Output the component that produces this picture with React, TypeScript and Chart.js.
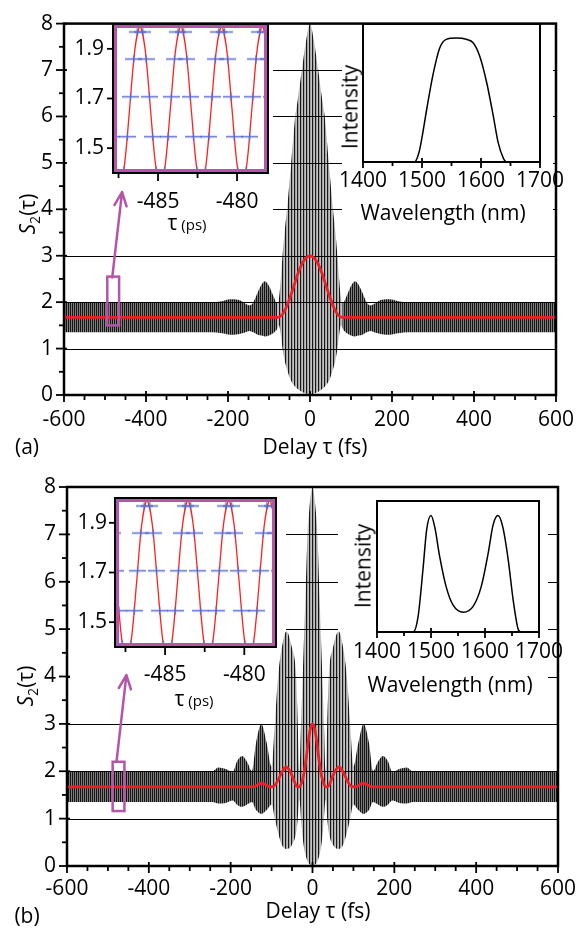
import React, { useEffect, useRef } from "react";
import { Chart, registerables } from "chart.js";

Chart.register(...registerables);

const W = 586;
const H = 934;
const FONT = "'Open Sans', 'DejaVu Sans', sans-serif";
const RED = "#ee1f26";
const MAGENTA = "#b455a8";
const BLUE = "#5a6bd0";
const XH = 44; // height reserved for x tick labels
const YW = 50; // width reserved for y tick labels

// ---------- Panel (a): autocorrelation S2(tau), flat-top spectrum ----------
const delayA = [-600, -240, -215, -195, -175, -160, -148, -138, -128, -118, -110, -100, -90, -80, -76, -72, -67, -62, -56, -46, -36, -30, -20, -10, 0, 10, 20, 30, 36, 46, 56, 62, 67, 72, 76, 80, 90, 100, 110, 118, 128, 138, 148, 160, 175, 195, 215, 240, 600];
const upperA = [2.0, 2.0, 2.02, 2.06, 2.05, 1.98, 1.93, 2.0, 2.2, 2.38, 2.45, 2.35, 2.15, 1.98, 2.05, 2.4, 3.0, 3.5, 4.0, 5.0, 6.0, 6.35, 7.0, 7.6, 8.0, 7.6, 7.0, 6.35, 6.0, 5.0, 4.0, 3.5, 3.0, 2.4, 2.05, 1.98, 2.15, 2.35, 2.45, 2.38, 2.2, 2.0, 1.93, 1.98, 2.05, 2.06, 2.02, 2.0, 2.0];
const lowerA = [1.35, 1.35, 1.33, 1.3, 1.31, 1.34, 1.38, 1.35, 1.3, 1.28, 1.26, 1.28, 1.33, 1.42, 1.5, 1.35, 1.0, 0.75, 0.55, 0.3, 0.18, 0.13, 0.07, 0.03, 0.0, 0.03, 0.07, 0.13, 0.18, 0.3, 0.55, 0.75, 1.0, 1.35, 1.5, 1.42, 1.33, 1.28, 1.26, 1.28, 1.3, 1.35, 1.38, 1.34, 1.31, 1.3, 1.33, 1.35, 1.35];
const redDelayA = [-600, -80, -70, -60, -50, -40, -30, -20, -10, 0, 10, 20, 30, 40, 50, 60, 70, 80, 600];
const redA = [1.67, 1.67, 1.71, 1.85, 2.07, 2.33, 2.6, 2.82, 2.95, 3.0, 2.95, 2.82, 2.6, 2.33, 2.07, 1.85, 1.71, 1.67, 1.67];

// ---------- Panel (b): autocorrelation S2(tau), double-peak spectrum ----------
const delayB = [-600, -245, -230, -212, -195, -185, -172, -160, -148, -138, -125, -112, -100, -92, -84, -75, -64, -50, -40, -36, -32, -28, -24, -20, -16, -12, -8, 0, 8, 12, 16, 20, 24, 28, 32, 36, 40, 50, 64, 75, 84, 92, 100, 112, 125, 138, 148, 160, 172, 185, 195, 212, 230, 245, 600];
const upperB = [2.0, 2.0, 2.08, 2.05, 1.98, 2.2, 2.32, 2.2, 2.0, 2.6, 3.0, 2.6, 2.1, 3.0, 4.0, 4.6, 4.95, 4.6, 4.0, 3.0, 2.0, 3.0, 4.0, 5.0, 6.0, 7.0, 7.5, 8.0, 7.5, 7.0, 6.0, 5.0, 4.0, 3.0, 2.0, 3.0, 4.0, 4.6, 4.95, 4.6, 4.0, 3.0, 2.1, 2.6, 3.0, 2.6, 2.0, 2.2, 2.32, 2.2, 1.98, 2.05, 2.08, 2.0, 2.0];
const lowerB = [1.35, 1.35, 1.32, 1.33, 1.38, 1.3, 1.25, 1.3, 1.35, 1.18, 1.1, 1.18, 1.3, 1.0, 0.7, 0.45, 0.36, 0.45, 0.7, 1.0, 1.4, 1.0, 0.6, 0.35, 0.2, 0.1, 0.04, 0.0, 0.04, 0.1, 0.2, 0.35, 0.6, 1.0, 1.4, 1.0, 0.7, 0.45, 0.36, 0.45, 0.7, 1.0, 1.3, 1.18, 1.1, 1.18, 1.35, 1.3, 1.25, 1.3, 1.38, 1.33, 1.32, 1.35, 1.35];
const redDelayB = [-600, -160, -145, -135, -125, -115, -105, -95, -85, -75, -65, -55, -45, -40, -35, -30, -25, -20, -15, -10, -5, 0, 5, 10, 15, 20, 25, 30, 35, 40, 45, 55, 65, 75, 85, 95, 105, 115, 125, 135, 145, 160, 600];
const redB = [1.67, 1.67, 1.67, 1.71, 1.75, 1.72, 1.67, 1.68, 1.8, 1.98, 2.09, 2.0, 1.8, 1.7, 1.67, 1.69, 1.8, 2.0, 2.3, 2.65, 2.9, 3.0, 2.9, 2.65, 2.3, 2.0, 1.8, 1.69, 1.67, 1.7, 1.8, 2.0, 2.09, 1.98, 1.8, 1.68, 1.67, 1.72, 1.75, 1.71, 1.67, 1.67, 1.67];

// ---------- Zoomed inset: S2 near tau = -483 ----------
const insetTau = [-488.72, -488.4, -488.075, -487.75, -487.43, -487.11, -486.785, -486.46, -486.14, -485.82, -485.495, -485.17, -484.85, -484.53, -484.205, -483.88, -483.56, -483.24, -482.915, -482.59, -482.27, -481.95, -481.625, -481.3, -480.98, -480.66, -480.335, -480.01, -479.69, -479.37, -479.045, -478.72, -478.4, -478.08, -477.755];
const insetS = [1.99, 1.9, 1.67, 1.44, 1.34, 1.44, 1.67, 1.9, 1.99, 1.9, 1.67, 1.44, 1.34, 1.44, 1.67, 1.9, 1.99, 1.9, 1.67, 1.44, 1.34, 1.44, 1.67, 1.9, 1.99, 1.9, 1.67, 1.44, 1.34, 1.44, 1.67, 1.9, 1.99, 1.9, 1.67];
const crossLevels = [1.968, 1.859, 1.707, 1.546, 1.41];
const crossTau = [
  [-488.9, -488.54, -486.32, -485.96, -483.74, -483.38, -481.16, -480.8, -478.58, -478.22],
  [-489.12, -488.33, -486.54, -485.75, -483.96, -483.17, -481.38, -480.59, -478.8, -478.01],
  [-489.32, -488.12, -486.74, -485.54, -484.16, -482.96, -481.58, -480.38, -479.0, -477.8],
  [-489.52, -487.92, -486.94, -485.34, -484.36, -482.76, -481.78, -480.18, -479.2, -477.6],
  [-489.74, -487.7, -487.16, -485.12, -484.58, -482.54, -482.0, -479.96, -479.42, -477.38],
];

// ---------- Spectra ----------
const wavelengthA = [1400, 1487, 1495, 1500, 1508, 1519, 1530, 1541, 1558, 1575, 1587, 1598, 1610, 1621, 1629, 1638, 1643, 1700];
const intensityA = [0, 0, 0.08, 0.2, 0.43, 0.72, 0.93, 1.0, 1.01, 1.0, 0.97, 0.86, 0.64, 0.37, 0.16, 0.03, 0, 0];
const wavelengthB = [1400, 1467, 1476, 1485, 1492, 1500, 1507, 1516, 1528, 1541, 1560, 1578, 1593, 1606, 1615, 1624, 1633, 1643, 1652, 1661, 1666, 1700];
const intensityB = [0, 0, 0.13, 0.53, 0.88, 1.0, 0.9, 0.65, 0.39, 0.23, 0.17, 0.22, 0.39, 0.68, 0.92, 1.0, 0.9, 0.62, 0.28, 0.03, 0, 0];

// ---------- Tick values ----------
const mainXTicks = [-600, -400, -200, 0, 200, 400, 600];
const mainXMinor = [-550, -500, -450, -350, -300, -250, -150, -100, -50, 50, 100, 150, 250, 300, 350, 450, 500, 550];
const mainYTicks = [0, 1, 2, 3, 4, 5, 6, 7, 8];
const mainYMinor = [0.5, 1.5, 2.5, 3.5, 4.5, 5.5, 6.5, 7.5];
const gridValues = [1, 2, 3, 4, 5, 6, 7];
const insetXTicks = [-485, -480];
const insetXMinor = [-487.5, -482.5];
const insetYTicks = [1.5, 1.7, 1.9];
const specXTicks = [1400, 1500, 1600, 1700];
const specXMinor = [1450, 1550, 1650];

function pts(xs: number[], ys: number[]) {
  return xs.map((x, i) => ({ x, y: ys[i] }));
}

function stripes(ctx: CanvasRenderingContext2D, cols: string[]) {
  const c = document.createElement("canvas");
  c.width = cols.length;
  c.height = 1;
  const g = c.getContext("2d")!;
  cols.forEach((col, i) => {
    g.fillStyle = col;
    g.fillRect(i, 0, 1, 1);
  });
  return ctx.createPattern(c, "repeat");
}

function crossImg() {
  const c = document.createElement("canvas");
  c.width = 17;
  c.height = 9;
  const g = c.getContext("2d")!;
  g.strokeStyle = BLUE;
  g.lineWidth = 1.3;
  g.beginPath();
  g.moveTo(0, 4.5);
  g.lineTo(17, 4.5);
  g.moveTo(8.5, 0.5);
  g.lineTo(8.5, 8.5);
  g.stroke();
  return c;
}

function makeDecor(cfg: any) {
  return {
    id: "decor",
    beforeDatasetsDraw(chart: any) {
      const { ctx, chartArea: a, scales } = chart;
      ctx.save();
      if (cfg.grid) {
        ctx.strokeStyle = "#000";
        ctx.lineWidth = 1.2;
        for (const v of cfg.grid) {
          const y = Math.round(scales.y.getPixelForValue(v)) + 0.5;
          ctx.beginPath();
          ctx.moveTo(a.left, y);
          ctx.lineTo(a.right, y);
          ctx.stroke();
        }
      }
      if (cfg.covers) {
        ctx.fillStyle = "#fff";
        for (const r of cfg.covers) ctx.fillRect(r[0], r[1], r[2] - r[0], r[3] - r[1]);
      }
      ctx.restore();
    },
    afterDraw(chart: any) {
      const { ctx, chartArea: a, scales } = chart;
      ctx.save();
      ctx.strokeStyle = "#000";
      for (const t of cfg.ticks || []) {
        ctx.lineWidth = t.width || 1.6;
        for (const v of t.values) {
          ctx.beginPath();
          if (t.axis === "x") {
            const x = scales.x.getPixelForValue(v);
            ctx.moveTo(x, a.bottom - t.inn);
            ctx.lineTo(x, a.bottom + t.out);
          } else {
            const y = scales.y.getPixelForValue(v);
            ctx.moveTo(a.left - t.out, y);
            ctx.lineTo(a.left + t.inn, y);
          }
          ctx.stroke();
        }
      }
      ctx.lineWidth = cfg.frame;
      ctx.strokeRect(a.left, a.top, a.right - a.left, a.bottom - a.top);
      if (cfg.inner) {
        const d = cfg.inner.inset;
        ctx.strokeStyle = MAGENTA;
        ctx.lineWidth = cfg.inner.width;
        ctx.strokeRect(a.left + d, a.top + d, a.right - a.left - 2 * d, a.bottom - a.top - 2 * d);
      }
      if (cfg.box) {
        const b = cfg.box;
        const x0 = scales.x.getPixelForValue(b.x0);
        const x1 = scales.x.getPixelForValue(b.x1);
        const y0 = scales.y.getPixelForValue(b.y0);
        const y1 = scales.y.getPixelForValue(b.y1);
        ctx.strokeStyle = MAGENTA;
        ctx.lineWidth = 2.5;
        ctx.strokeRect(x0, y1, x1 - x0, y0 - y1);
      }
      if (cfg.arrow) {
        const r = cfg.arrow;
        const x0 = scales.x.getPixelForValue(r.x0);
        const y0 = scales.y.getPixelForValue(r.y0);
        const x1 = scales.x.getPixelForValue(r.x1);
        const y1 = scales.y.getPixelForValue(r.y1);
        const ang = Math.atan2(y1 - y0, x1 - x0);
        const L = 15;
        const s = 0.42;
        ctx.strokeStyle = MAGENTA;
        ctx.lineWidth = 2.5;
        ctx.lineCap = "round";
        ctx.lineJoin = "round";
        ctx.beginPath();
        ctx.moveTo(x0, y0);
        ctx.lineTo(x1, y1);
        ctx.moveTo(x1 - L * Math.cos(ang - s), y1 - L * Math.sin(ang - s));
        ctx.lineTo(x1, y1);
        ctx.lineTo(x1 - L * Math.cos(ang + s), y1 - L * Math.sin(ang + s));
        ctx.stroke();
      }
      ctx.restore();
    },
  };
}

function scaleX(min: number, max: number, ticks: number[], padding: number, fmt: (v: number) => string) {
  return {
    type: "linear",
    min,
    max,
    afterFit: (s: any) => {
      s.height = XH;
    },
    afterBuildTicks: (s: any) => {
      s.ticks = ticks.map((v) => ({ value: v }));
    },
    grid: { display: false, drawTicks: false },
    border: { display: false },
    ticks: {
      font: { family: FONT, size: 21 },
      color: "#000",
      padding,
      autoSkip: false,
      maxRotation: 0,
      minRotation: 0,
      callback: (v: any) => fmt(Number(v)),
    },
  };
}

function scaleY(min: number, max: number, ticks: number[], padding: number, fmt: (v: number) => string, display = true) {
  return {
    type: "linear",
    min,
    max,
    display,
    afterFit: (s: any) => {
      s.width = display ? YW : 0;
    },
    afterBuildTicks: (s: any) => {
      s.ticks = ticks.map((v) => ({ value: v }));
    },
    grid: { display: false, drawTicks: false },
    border: { display: false },
    ticks: {
      font: { family: FONT, size: 21 },
      color: "#000",
      padding,
      autoSkip: false,
      callback: (v: any) => fmt(Number(v)),
    },
  };
}

function baseOptions(area: number[], scales: any, yShown = true) {
  return {
    responsive: false,
    animation: false,
    devicePixelRatio: 1,
    events: [],
    layout: {
      autoPadding: false,
      padding: {
        left: area[0] - (yShown ? YW : 0),
        top: area[1],
        right: W - area[2],
        bottom: H - area[3] - XH,
      },
    },
    plugins: { legend: { display: false }, tooltip: { enabled: false }, title: { display: false } },
    scales,
  };
}

function mainChart(canvas: HTMLCanvasElement, p: any) {
  const ctx = canvas.getContext("2d")!;
  const flat = stripes(ctx, ["rgba(0,0,0,0.92)", "rgba(0,0,0,0.5)"]);
  const center = stripes(ctx, ["rgba(0,0,0,0.9)", "rgba(0,0,0,0.36)", "rgba(0,0,0,0.24)"]);
  const lim = p.lim;
  return new Chart(canvas, {
    type: "line",
    data: {
      datasets: [
        {
          data: pts(p.delay, p.upper),
          borderColor: "rgba(0,0,0,0)",
          borderWidth: 0,
          pointRadius: 0,
          fill: false,
          order: 1,
          cubicInterpolationMode: "monotone",
        },
        {
          data: pts(p.delay, p.lower),
          borderColor: "rgba(0,0,0,0)",
          borderWidth: 0,
          pointRadius: 0,
          fill: "-1",
          backgroundColor: flat,
          segment: {
            backgroundColor: (c: any) =>
              Math.abs(c.p0.parsed.x) <= lim && Math.abs(c.p1.parsed.x) <= lim ? center : flat,
          },
          order: 2,
          cubicInterpolationMode: "monotone",
        },
        {
          data: pts(p.redDelay, p.red),
          borderColor: RED,
          borderWidth: 2.8,
          pointRadius: 0,
          fill: false,
          order: 0,
          cubicInterpolationMode: "monotone",
        },
      ],
    },
    options: baseOptions(p.area, {
      x: scaleX(-600, 600, mainXTicks, p.xPad, (v) => String(v)),
      y: scaleY(0, 8, mainYTicks, 11, (v) => String(v)),
    }),
    plugins: [
      makeDecor({
        grid: gridValues,
        covers: p.covers,
        frame: 2.5,
        box: p.box,
        arrow: p.arrow,
        ticks: [
          { axis: "x", values: mainXTicks, out: 7, inn: 4, width: 1.8 },
          { axis: "x", values: mainXMinor, out: 5, inn: 0, width: 1.8 },
          { axis: "y", values: mainYTicks, out: 8, inn: 3, width: 1.8 },
          { axis: "y", values: mainYMinor, out: 5, inn: 0, width: 1.8 },
        ],
      }),
    ],
  } as any);
}

function pulseInset(canvas: HTMLCanvasElement, p: any) {
  const img = crossImg();
  const markerSets = crossLevels.map((lv, i) => ({
    data: crossTau[i].map((x) => ({ x, y: lv })),
    showLine: false,
    pointStyle: img,
    pointRadius: 5,
    order: 0,
    clip: 0,
  }));
  return new Chart(canvas, {
    type: "line",
    data: {
      datasets: [
        ...markerSets,
        {
          data: pts(insetTau, insetS),
          borderColor: "#ff2020",
          borderWidth: 1.3,
          pointRadius: 0,
          fill: false,
          tension: 0.3,
          order: 1,
          clip: 0,
        },
      ],
    },
    options: baseOptions(p.area, {
      x: scaleX(p.min, p.max, insetXTicks, p.xPad, (v) => String(v)),
      y: scaleY(1.4, 2.0, insetYTicks, p.yPad, (v) => v.toFixed(1)),
    }),
    plugins: [
      makeDecor({
        frame: 2,
        inner: { inset: 2.5, width: 3 },
        ticks: [
          { axis: "x", values: insetXTicks, out: 8, inn: 0, width: 1.8 },
          { axis: "x", values: insetXMinor, out: 5, inn: 0, width: 1.8 },
          { axis: "y", values: insetYTicks, out: 6, inn: 0, width: 1.8 },
        ],
      }),
    ],
  } as any);
}

function spectrumInset(canvas: HTMLCanvasElement, p: any) {
  return new Chart(canvas, {
    type: "line",
    data: {
      datasets: [
        {
          data: pts(p.wl, p.inten),
          borderColor: "#000",
          borderWidth: 1.5,
          pointRadius: 0,
          fill: false,
          cubicInterpolationMode: "monotone",
        },
      ],
    },
    options: baseOptions(
      p.area,
      {
        x: scaleX(1400, 1700, specXTicks, p.xPad, (v) => String(v)),
        y: scaleY(0, 1.125, [], 0, (v) => String(v), false),
      },
      false
    ),
    plugins: [
      makeDecor({
        frame: 2,
        ticks: [
          { axis: "x", values: specXTicks, out: 6, inn: 4, width: 1.8 },
          { axis: "x", values: specXMinor, out: 4, inn: 0, width: 1.8 },
        ],
      }),
    ],
  } as any);
}

const textBase: React.CSSProperties = {
  position: "absolute",
  fontFamily: FONT,
  fontSize: 21,
  lineHeight: 1,
  color: "#000",
  whiteSpace: "nowrap",
};

function Txt({ x, y, rot, children }: any) {
  return (
    <div
      style={{
        ...textBase,
        left: x,
        top: y,
        transform: rot ? "translate(-50%, -50%) rotate(-90deg)" : "translate(-50%, -50%)",
      }}
    >
      {children}
    </div>
  );
}

function YTitle({ x, y }: any) {
  return (
    <Txt x={x} y={y} rot>
      <span style={{ fontStyle: "italic" }}>S</span>
      <span style={{ fontSize: 14, position: "relative", top: 5 }}>2</span>
      <span>(τ)</span>
    </Txt>
  );
}

function TauPs({ x, y }: any) {
  return (
    <Txt x={x} y={y}>
      <span>τ</span>
      <span style={{ fontSize: 15 }}> (ps)</span>
    </Txt>
  );
}

export default function App() {
  const r0 = useRef<HTMLCanvasElement>(null);
  const r1 = useRef<HTMLCanvasElement>(null);
  const r2 = useRef<HTMLCanvasElement>(null);
  const r3 = useRef<HTMLCanvasElement>(null);
  const r4 = useRef<HTMLCanvasElement>(null);
  const r5 = useRef<HTMLCanvasElement>(null);

  useEffect(() => {
    const charts: Chart[] = [];
    charts.push(
      mainChart(r0.current!, {
        delay: delayA,
        upper: upperA,
        lower: lowerA,
        redDelay: redDelayA,
        red: redA,
        area: [64, 16, 564, 395],
        xPad: 12,
        lim: 80,
        covers: [
          [66, 18, 273, 240],
          [342, 18, 553, 240],
        ],
        box: { x0: -494.4, x1: -465.6, y0: 1.5, y1: 2.55 },
        arrow: { x0: -482.4, y0: 2.53, x1: -458.4, y1: 4.37 },
      })
    );
    charts.push(
      mainChart(r1.current!, {
        delay: delayB,
        upper: upperB,
        lower: lowerB,
        redDelay: redDelayB,
        red: redB,
        area: [67, 487, 567, 866],
        xPad: 10,
        lim: 105,
        covers: [
          [70, 489, 286, 712],
          [338, 489, 548, 712],
        ],
        box: { x0: -488.4, x1: -459.6, y0: 1.16, y1: 2.2 },
        arrow: { x0: -478.8, y0: 2.22, x1: -454.8, y1: 4.03 },
      })
    );
    charts.push(pulseInset(r2.current!, { area: [113, 24, 268, 173], min: -487.85, max: -478.04, xPad: 16, yPad: 9 }));
    charts.push(pulseInset(r3.current!, { area: [115, 498, 276, 647], min: -488.16, max: -478.0, xPad: 15, yPad: 8 }));
    charts.push(spectrumInset(r4.current!, { area: [363, 24, 540, 162], wl: wavelengthA, inten: intensityA, xPad: 6 }));
    charts.push(spectrumInset(r5.current!, { area: [377, 501, 539, 632], wl: wavelengthB, inten: intensityB, xPad: 7 }));
    return () => charts.forEach((c) => c.destroy());
  }, []);

  const cStyle: React.CSSProperties = { position: "absolute", left: 0, top: 0, width: W, height: H };

  return (
    <div style={{ position: "absolute", left: 0, top: 0, width: W, height: H, background: "#fff", overflow: "hidden" }}>
      <canvas ref={r0} width={W} height={H} style={cStyle} />
      <canvas ref={r1} width={W} height={H} style={cStyle} />
      <canvas ref={r2} width={W} height={H} style={cStyle} />
      <canvas ref={r3} width={W} height={H} style={cStyle} />
      <canvas ref={r4} width={W} height={H} style={cStyle} />
      <canvas ref={r5} width={W} height={H} style={cStyle} />

      <YTitle x={27} y={214} />
      <YTitle x={25} y={686} />
      <Txt x={315} y={446}>Delay τ (fs)</Txt>
      <Txt x={318} y={910}>Delay τ (fs)</Txt>
      <Txt x={27} y={446}>(a)</Txt>
      <Txt x={27} y={915}>(b)</Txt>
      <TauPs x={187} y={222} />
      <TauPs x={194} y={698} />
      <Txt x={350} y={107} rot>Intensity</Txt>
      <Txt x={363} y={566} rot>Intensity</Txt>
      <Txt x={443} y={212}>Wavelength (nm)</Txt>
      <Txt x={450} y={684}>Wavelength (nm)</Txt>
    </div>
  );
}
